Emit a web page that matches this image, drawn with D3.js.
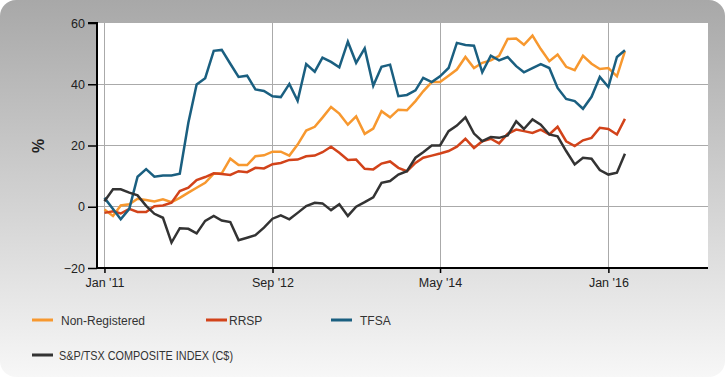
<!DOCTYPE html>
<html lang="en">
<head>
    <meta charset="UTF-8">
    <title>Portfolio returns</title>
    <script src="https://d3js.org/d3.v7.min.js"></script>
    <style>
        body { margin: 0; background: #fff; }
        text { font-family: 'Liberation Sans', Arial, sans-serif; fill: #222; }
        text.tick-label { font-size: 12.5px; }
        text.legend { font-size: 12px; fill: #333; }
        text.ylabel { font-size: 16px; font-weight: bold; }
    </style>
</head>
<body>
<svg width="728" height="379"></svg>
<script>
    // monthly points, Jan '11 .. Mar '16
    const firstMonth = new Date(2011, 0, 1);
    const nonRegistered = [-0.9, -3.0, 0.4, 0.8, 2.6, 2.2, 1.7, 2.4, 1.5, 2.9, 4.6, 6.2, 7.8, 10.8, 10.9, 15.7,
        13.6, 13.6, 16.5, 16.8, 18.0, 18.0, 16.7, 20.3, 24.9, 26.1, 29.1, 32.6, 30.4, 26.8, 29.5, 23.8, 25.5,
        31.2, 29.2, 31.7, 31.5, 34.5, 37.7, 40.7, 40.7, 42.8, 44.8, 48.9, 45.3, 47.0, 47.8, 49.3,
        54.8, 54.9, 52.9, 55.9, 51.5, 47.5, 49.7, 45.7, 44.6, 49.3, 46.7, 45.0, 45.3, 42.6, 50.8];
    const rrsp = [-2.0, -1.5, -2.2, -0.7, -1.7, -1.7, 0.2, 0.4, 1.3, 5.1, 6.2, 8.7, 9.7, 10.9, 10.7, 10.4,
        11.6, 11.3, 12.7, 12.5, 13.9, 14.3, 15.3, 15.4, 16.5, 16.7, 17.8, 19.6, 17.6, 15.3, 15.4, 12.4, 12.2,
        14.1, 14.8, 12.7, 11.6, 14.3, 16.0, 16.7, 17.4, 18.2, 19.6, 22.2, 19.2, 21.4, 22.2, 20.7,
        23.8, 25.2, 24.7, 24.1, 25.2, 23.6, 26.1, 21.4, 19.8, 21.7, 22.5, 25.8, 25.4, 23.6, 28.7];
    const tfsa = [2.9, -0.7, -4.1, -0.7, 9.8, 12.3, 9.8, 10.2, 10.2, 10.8, 27.4, 39.9, 42.0, 50.9, 51.2, 46.7,
        42.4, 42.8, 38.3, 37.8, 36.1, 35.8, 40.1, 34.6, 46.6, 44.1, 48.7, 47.3, 45.5, 53.9, 47.0, 51.7, 39.5,
        45.7, 46.4, 36.1, 36.5, 38.0, 42.1, 40.7, 42.6, 45.3, 53.5, 52.8, 52.6, 43.9, 49.3, 47.8,
        48.9, 45.9, 43.9, 45.3, 46.6, 45.3, 38.8, 35.2, 34.5, 32.0, 35.9, 42.4, 39.1, 48.9, 51.1];
    const spTsx = [1.8, 5.7, 5.7, 4.6, 3.7, 0.3, -2.3, -3.6, -11.7, -7.0, -7.2, -8.7, -4.6, -3.0, -4.5, -5.0,
        -10.9, -10.1, -9.3, -6.8, -3.9, -2.8, -4.1, -2.0, 0.2, 1.3, 1.1, -1.1, 0.8, -3.0, 0.0, 1.5, 3.1,
        7.8, 8.4, 10.5, 11.6, 16.0, 17.8, 20.0, 20.0, 24.7, 26.5, 29.2, 23.9, 21.4, 22.8, 22.5,
        23.3, 27.9, 25.4, 28.5, 26.8, 23.6, 23.0, 18.2, 13.8, 16.0, 15.7, 12.0, 10.5, 11.1, 17.3];

    const seriesNames = ["Non-Registered", "RRSP", "TFSA", "S&P/TSX COMPOSITE INDEX (C$)"];
    const seriesValues = [nonRegistered, rrsp, tfsa, spTsx];
    const seriesColors = ["#f7982f", "#d2431a", "#1a5f80", "#333333"];
    const yTicks = [-20, 0, 20, 40, 60];
    const xTicks = [new Date(2011, 0, 1), new Date(2012, 8, 1), new Date(2014, 4, 1), new Date(2016, 0, 1)];

    const svg = d3.select("svg");
    const plot = {left: 97, right: 708, top: 23, bottom: 268};

    // card background
    const grad = svg.append("defs").append("linearGradient")
            .attr("id", "bg").attr("x1", 0).attr("y1", 0).attr("x2", 0).attr("y2", 1);
    grad.append("stop").attr("offset", "0%").attr("stop-color", "#a8a8a8");
    grad.append("stop").attr("offset", "100%").attr("stop-color", "#f7f7f7");
    svg.append("rect").attr("x", 0).attr("y", 0).attr("width", 725).attr("height", 377)
            .attr("rx", 16).attr("fill", "url(#bg)");
    svg.append("rect").attr("x", plot.left).attr("y", plot.top)
            .attr("width", plot.right - plot.left).attr("height", plot.bottom - plot.top).attr("fill", "#fff");

    const x = d3.scaleTime().domain([new Date(2010, 11, 5), new Date(2016, 11, 27)]).range([plot.left, plot.right]);
    const y = d3.scaleLinear().domain([-20, 60]).range([plot.bottom, plot.top]);

    // grid
    svg.append("g").selectAll("line").data(yTicks.slice(1, -1)).enter().append("line")
            .attr("x1", plot.left).attr("x2", plot.right).attr("y1", y).attr("y2", y)
            .attr("stroke", "#aaa").attr("stroke-width", 1).attr("shape-rendering", "crispEdges");
    svg.append("g").selectAll("line").data(xTicks).enter().append("line")
            .attr("x1", x).attr("x2", x).attr("y1", plot.top).attr("y2", plot.bottom)
            .attr("stroke", "#aaa").attr("stroke-width", 1).attr("shape-rendering", "crispEdges");

    // lines
    const line = d3.line()
            .x((d, i) => x(d3.timeMonth.offset(firstMonth, i)))
            .y(d => y(d));
    svg.append("g").selectAll("path").data(seriesValues).enter().append("path")
            .attr("d", line)
            .attr("fill", "none")
            .attr("stroke", (d, i) => seriesColors[i])
            .attr("stroke-width", 2.5)
            .attr("stroke-linejoin", "miter");

    // axes
    const yAxis = svg.append("g").attr("transform", `translate(${plot.left},0)`)
            .call(d3.axisLeft(y).tickValues(yTicks).tickSize(9).tickPadding(3));
    const xAxis = svg.append("g").attr("transform", `translate(0,${plot.bottom})`)
            .call(d3.axisBottom(x).tickValues(xTicks).tickSize(5).tickPadding(5)
                    .tickFormat(d3.timeFormat("%b '%y")));
    [yAxis, xAxis].forEach(g => {
        g.select(".domain").attr("stroke", "#000").attr("stroke-width", 2);
        g.selectAll(".tick line").attr("stroke", "#000").attr("stroke-width", 1.5);
        g.selectAll(".tick text").attr("class", "tick-label").attr("fill", "#222")
                .style("font-family", "'Liberation Sans', Arial, sans-serif").style("font-size", "12.5px");
    });
    yAxis.select(".domain").attr("d", `M-9,${plot.top}H0V${plot.bottom}`);
    xAxis.select(".domain").attr("d", `M${plot.left},0H${plot.right}`);

    svg.append("text").attr("class", "ylabel")
            .attr("transform", "translate(44,146) rotate(-90)")
            .attr("text-anchor", "middle").text("%");

    // legend
    const legendPos = [[32, 320], [206, 320], [331, 320], [32, 355]];
    const legend = svg.append("g").selectAll("g").data(seriesNames).enter().append("g")
            .attr("transform", (d, i) => `translate(${legendPos[i][0]},${legendPos[i][1]})`);
    legend.append("line").attr("x1", 0).attr("x2", 21).attr("y1", 0).attr("y2", 0)
            .attr("stroke", (d, i) => seriesColors[i]).attr("stroke-width", 3);
    legend.append("text").attr("class", "legend")
            .attr("x", (d, i) => i === 1 ? 23 : (i === 3 ? 27 : 29)).attr("y", 5)
            .text(d => d)
            .each(function (d, i) {
                if (i === 3) d3.select(this).attr("textLength", 174).attr("lengthAdjust", "spacingAndGlyphs");
            });
</script>
</body>
</html>
